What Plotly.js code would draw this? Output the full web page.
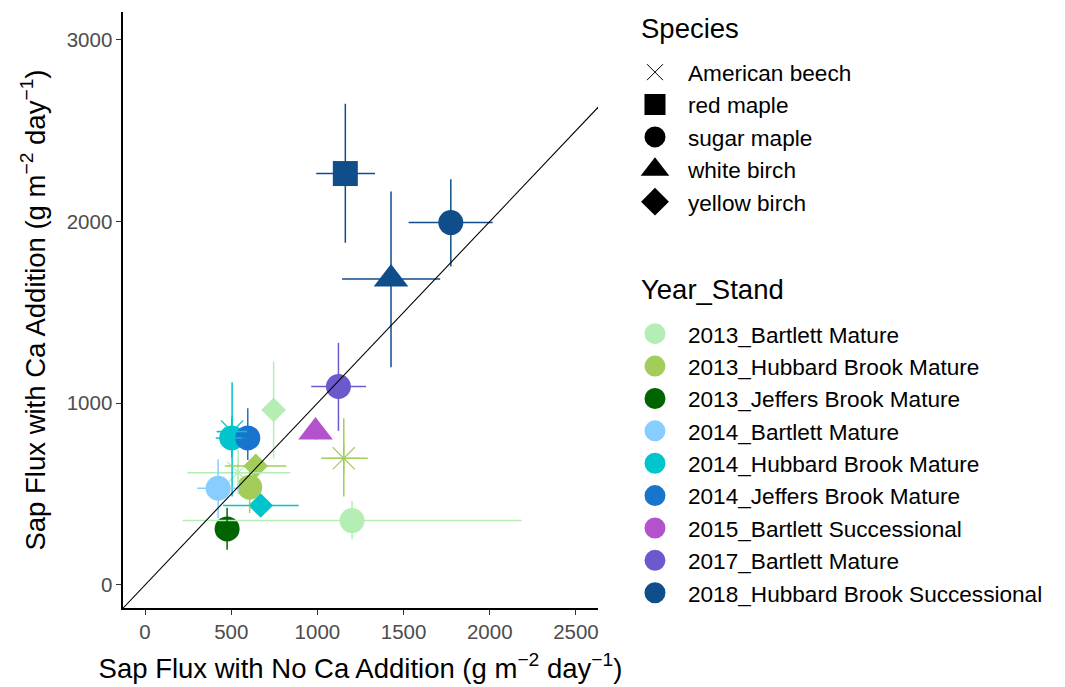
<!DOCTYPE html>
<html>
<head>
<meta charset="utf-8">
<script src="https://cdn.plot.ly/plotly-3.0.1.min.js"></script>
<style>html,body{margin:0;padding:0;background:#fff;}#chart{width:1065px;height:687px;}</style>
</head>
<body>
<div id="chart"></div>
<script>
// ---- data ----
const speciesLevels = ["American beech", "red maple", "sugar maple", "white birch", "yellow birch"];
const yearStandLevels = ["2013_Bartlett Mature", "2013_Hubbard Brook Mature", "2013_Jeffers Brook Mature",
  "2014_Bartlett Mature", "2014_Hubbard Brook Mature", "2014_Jeffers Brook Mature",
  "2015_Bartlett Successional", "2017_Bartlett Mature", "2018_Hubbard Brook Successional"];
const yearStandColors = ["#B4EEB4", "#A2CD5A", "#006400", "#87CEFF", "#00C5CD", "#1874CD", "#B452CD", "#6A5ACD", "#104E8B"];

const species = ["American beech", "American beech", "American beech", "red maple",
  "sugar maple", "sugar maple", "sugar maple", "sugar maple", "sugar maple", "sugar maple", "sugar maple", "sugar maple",
  "white birch", "white birch", "yellow birch", "yellow birch", "yellow birch"];
const yearStand = ["2013_Bartlett Mature", "2013_Hubbard Brook Mature", "2014_Hubbard Brook Mature", "2018_Hubbard Brook Successional",
  "2013_Bartlett Mature", "2013_Hubbard Brook Mature", "2013_Jeffers Brook Mature", "2014_Bartlett Mature",
  "2014_Hubbard Brook Mature", "2014_Jeffers Brook Mature", "2017_Bartlett Mature", "2018_Hubbard Brook Successional",
  "2015_Bartlett Successional", "2018_Hubbard Brook Successional",
  "2013_Bartlett Mature", "2013_Hubbard Brook Mature", "2014_Hubbard Brook Mature"];
const noCaMean = [540, 1153, 505, 1162, 1201, 607, 476, 424, 503, 596, 1122, 1774, 989, 1427, 746, 642, 671];
const noCaLow  = [245, 1022, 420, 993, 218, 560, 440, 302, 410, 560, 964, 1529, 950, 1143, 715, 463, 453];
const noCaHigh = [843, 1292, 596, 1334, 2185, 654, 512, 546, 596, 632, 1282, 2017, 1030, 1712, 777, 820, 892];
const caMean = [618, 697, 844, 2264, 354, 538, 308, 532, 809, 809, 1092, 1994, 842, 1683, 963, 655, 437];
const caLow  = [500, 486, 486, 1883, 252, 395, 193, 367, 700, 688, 848, 1752, 800, 1198, 697, 620, 400];
const caHigh = [743, 917, 1116, 2648, 462, 680, 425, 692, 920, 972, 1332, 2233, 885, 2165, 1229, 690, 475];

const xTicks = [0, 500, 1000, 1500, 2000, 2500];
const yTicks = [0, 1000, 2000, 3000];
const xRange = [-128, 2628];
const yRange = [-127, 3153];

// ---- styling ----
const symbolFor = {"American beech": "asterisk-open", "red maple": "square", "sugar maple": "circle", "white birch": "triangle-up", "yellow birch": "diamond"};
const sizeFor = {"American beech": 26, "red maple": 25, "sugar maple": 25, "white birch": 30, "yellow birch": 19};
const legendSymbolFor = {"American beech": "x-thin-open", "red maple": "square", "sugar maple": "circle", "white birch": "triangle-up", "yellow birch": "diamond"};
const colorOf = ys => yearStandColors[yearStandLevels.indexOf(ys)];
const FONT = "Liberation Sans, Arial, sans-serif";

const traces = [];
// points
for (let i = 0; i < noCaMean.length; i++) {
  const c = colorOf(yearStand[i]);
  traces.push({
    type: "scatter", mode: "markers", x: [noCaMean[i]], y: [caMean[i]],
    marker: {symbol: symbolFor[species[i]], size: sizeFor[species[i]], color: c, line: {color: c, width: species[i] === "American beech" ? 1.2 : 0}},
    showlegend: false, hoverinfo: "skip", cliponaxis: false
  });
}
// error bars drawn on top of the points
for (let i = 0; i < noCaMean.length; i++) {
  const c = colorOf(yearStand[i]);
  traces.push({
    type: "scatter", mode: "markers", x: [noCaMean[i]], y: [caMean[i]],
    marker: {size: 1, opacity: 0, color: c},
    error_x: {type: "data", symmetric: false, array: [noCaHigh[i] - noCaMean[i]], arrayminus: [noCaMean[i] - noCaLow[i]], width: 0, thickness: 1.5, color: c},
    error_y: {type: "data", symmetric: false, array: [caHigh[i] - caMean[i]], arrayminus: [caMean[i] - caLow[i]], width: 0, thickness: 1.5, color: c},
    showlegend: false, hoverinfo: "skip"
  });
}
// legend: species
speciesLevels.forEach((s) => {
  const isX = s === "American beech";
  traces.push({
    type: "scatter", mode: "markers", x: [null], y: [null], name: s, legend: "legend",
    marker: {symbol: legendSymbolFor[s], size: 16, color: "#000", line: {color: "#000", width: isX ? 1 : 5}}
  });
});
// legend: year_stand
yearStandLevels.forEach((ys, k) => {
  traces.push({
    type: "scatter", mode: "markers", x: [null], y: [null], name: ys, legend: "legend2",
    marker: {symbol: "circle", size: 16, color: yearStandColors[k], line: {color: yearStandColors[k], width: 5}}
  });
});

const lo = Math.min(xRange[0], yRange[0]) - 500, hi = Math.max(xRange[1], yRange[1]) + 500;

const axisCommon = {
  showgrid: false, zeroline: false, showline: true, linecolor: "#000", linewidth: 1.6,
  ticks: "outside", ticklen: 5, tickwidth: 1.1, tickcolor: "#333",
  tickfont: {family: FONT, size: 20.5, color: "#4D4D4D"}, mirror: false
};

const legendCommon = {
  xanchor: "left", yanchor: "top", bgcolor: "rgba(0,0,0,0)", itemwidth: 56,
  font: {family: FONT, size: 22.6, color: "#000"}, tracegroupgap: 0, itemsizing: "trace"
};

const layout = {
  width: 1065, height: 687,
  margin: {l: 123, r: 467, t: 12, b: 79},
  paper_bgcolor: "#fff", plot_bgcolor: "#fff",
  font: {family: FONT, color: "#000"},
  xaxis: Object.assign({}, axisCommon, {range: xRange, tickvals: xTicks, ticktext: xTicks.map(String),
    title: {text: "Sap Flux with No Ca Addition (g m<sup>\u22122</sup> day<sup>\u22121</sup>)", font: {family: FONT, size: 27.5, color: "#000"}, standoff: 16}}),
  yaxis: Object.assign({}, axisCommon, {range: yRange, tickvals: yTicks, ticktext: yTicks.map(String),
    title: {text: "Sap Flux with Ca Addition (g m<sup>\u22122</sup> day<sup>\u22121</sup>)", font: {family: FONT, size: 27.5, color: "#000"}, standoff: 13}}),
  shapes: [{type: "line", xref: "x", yref: "y", x0: lo, y0: lo, x1: hi, y1: hi, line: {color: "#000", width: 1.1}, layer: "above"}],
  annotations: [
    {text: "Species", xref: "paper", yref: "paper", x: 1.0857, y: 0.9715, xanchor: "left", yanchor: "middle", showarrow: false, font: {family: FONT, size: 27.5, color: "#000"}},
    {text: "Year_Stand", xref: "paper", yref: "paper", x: 1.0857, y: 0.5336, xanchor: "left", yanchor: "middle", showarrow: false, font: {family: FONT, size: 27.5, color: "#000"}}
  ],
  legend: Object.assign({}, legendCommon, {x: 1.0505, y: 0.9346}),
  legend2: Object.assign({}, legendCommon, {x: 1.0505, y: 0.4958}),
  showlegend: true
};

Plotly.newPlot("chart", traces, layout, {displayModeBar: false, staticPlot: true});
</script>
</body>
</html>
